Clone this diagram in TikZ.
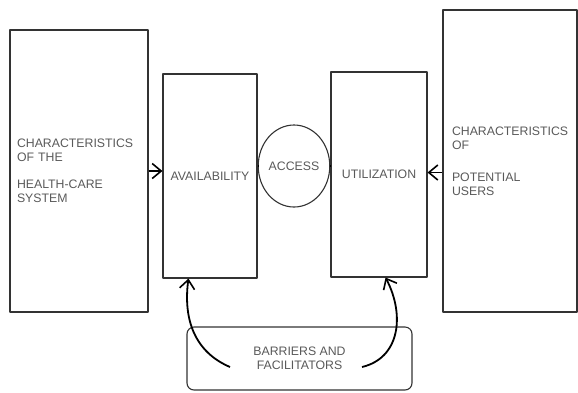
\documentclass[tikz,border=0pt]{standalone}
\usepackage{fontspec}
\setmainfont{Liberation Sans}
\usetikzlibrary{arrows.meta,shapes.geometric}
\begin{document}
\begin{tikzpicture}[x=1pt, y=-1pt, >={Straight Barb[length=9pt,width=15pt,line width=1.6pt]}, line join=round,
	box/.style={draw=black!80, line width=1.1pt, inner sep=0pt, text=black!65,
		font=\fontsize{12.3}{14}\selectfont},
	link/.style={line width=1.8pt}]
	%% Khung
	\useasboundingbox (0,0) rectangle (578,392);
	%% Các hộp
	\node[box, minimum width=138pt, minimum height=282pt, text width=124pt, align=left] (sys) at (79,171)
	{CHARACTERISTICS\\OF THE\\[13pt]HEALTH-CARE\\SYSTEM};
	\node[box, minimum width=134pt, minimum height=302pt, text width=116pt, align=left] (users) at (510,161)
	{CHARACTERISTICS\\OF\\[18pt]POTENTIAL\\USERS};
	\node[box, minimum width=94pt, minimum height=204pt] (avail) at (210,176) {AVAILABILITY};
	\node[box, ellipse, minimum width=62pt, minimum height=82pt] (access) at (294,166) {ACCESS};
	\node[box, minimum width=96pt, minimum height=205pt] (util) at (379,174.5) {UTILIZATION};
	\node[box, rounded corners=7pt, minimum width=225pt, minimum height=63pt, align=center] (bar) at (299.5,358.5)
	{BARRIERS AND\\FACILITATORS};
	%% Các mũi tên
	\draw[link, ->] (sys.east) -- (sys.east -| avail.west);
	\draw[link, ->] ([yshift=2pt]users.west |- util.east) -- ([yshift=2pt]util.east);
	\draw[link] (access.west) -- (access.west -| avail.east)
	(access.east) -- (access.east -| util.west);
	\coordinate (bl) at (230,367);
	\coordinate (br) at (362,367);
	\draw[link, ->] (bl) .. controls (195,352) and (183,320) .. ([xshift=26pt]avail.south west);
	\draw[link, ->] (br) .. controls (400,358) and (405,315) .. ([xshift=-42pt]util.south east);
\end{tikzpicture}
\end{document}
